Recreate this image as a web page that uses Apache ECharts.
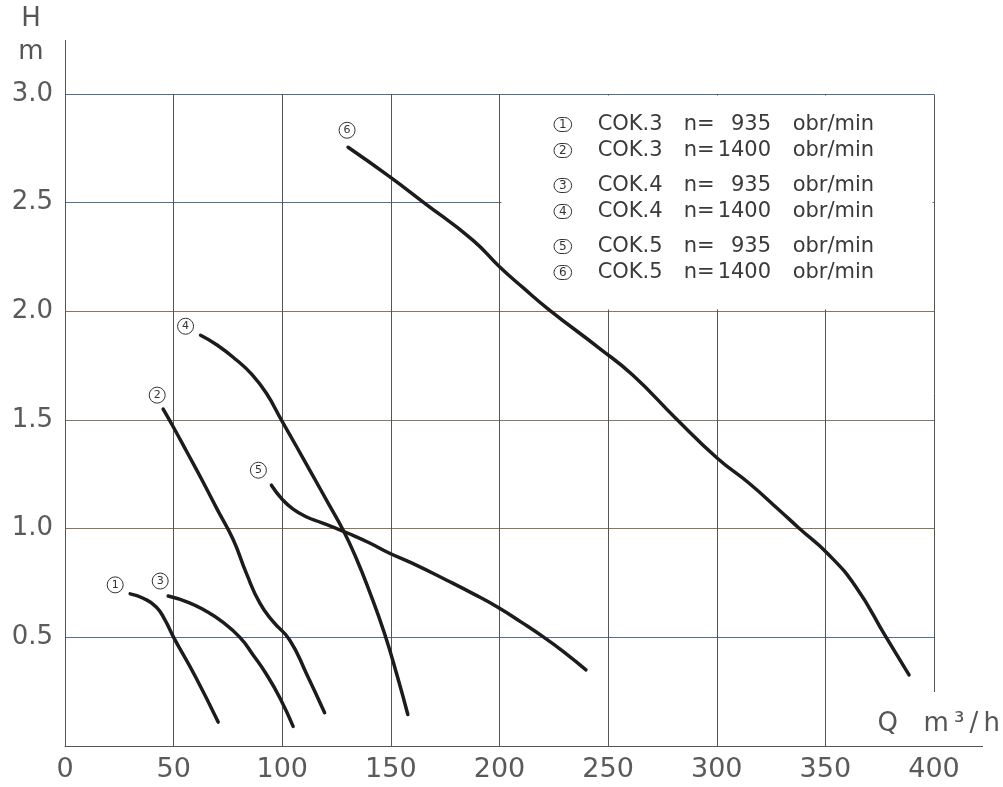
<!DOCTYPE html>
<html>
<head>
<meta charset="utf-8">
<script src="https://cdn.jsdelivr.net/npm/echarts@6/dist/echarts.min.js"></script>
<style>
html,body{margin:0;padding:0;background:#fff;}
#chart{width:1003px;height:787px;}
</style>
</head>
<body>
<div id="chart"></div>
<script>
// ---- Data (Q in m3/h, H in m) ----
const pumpModels = ['COK.3', 'COK.3', 'COK.4', 'COK.4', 'COK.5', 'COK.5'];
const pumpSpeeds = [935, 1400, 935, 1400, 935, 1400];
const speedUnit = 'obr/min';

const cok3n935 = [[30,0.70],[36,0.68],[42,0.64],[46,0.58],[50,0.50],[60,0.32],[70.5,0.11]];
const cok3n1400 = [[45.2,1.55],[49.8,1.469],[56,1.355],[63,1.225],[70,1.09],[77.4,0.95],[83.5,0.794],[89.7,0.657],[95.8,0.572],[103.4,0.488],[111.1,0.334],[119.5,0.153]];
const cok4n935 = [[47.5,0.69],[57,0.66],[65,0.62],[72,0.575],[80.5,0.50],[86.5,0.42],[92.7,0.33],[99,0.22],[105,0.09]];
const cok4n1400 = [[62.4,1.89],[70,1.845],[78.9,1.776],[86,1.71],[92.7,1.623],[99.6,1.50],[107,1.37],[114,1.245],[121,1.12],[128,0.994],[134,0.865],[140,0.715],[147,0.52],[153,0.32],[157.8,0.145]];
const cok5n935 = [[95,1.20],[100,1.135],[105,1.09],[111,1.055],[118,1.028],[124,1.005],[130,0.98],[140,0.935],[149.4,0.887],[160,0.84],[175.5,0.764],[188,0.70],[200,0.634],[210,0.57],[220,0.503],[230,0.43],[239.8,0.35]];
const cok5n1400 = [[130.3,2.755],[149.4,2.62],[164.7,2.504],[187.7,2.328],[200,2.205],[210.7,2.11],[223,2.006],[246,1.83],[261.3,1.707],[281.2,1.507],[300.4,1.323],[314.9,1.209],[328.7,1.086],[337.9,1.002],[350.9,0.887],[364,0.733],[377.8,0.503],[388.5,0.327]];

const curves = [cok3n935, cok3n1400, cok4n935, cok4n1400, cok5n935, cok5n1400];

// axis scale
const qMin = 0, qMax = 400, qStep = 50;
const hMin = 0, hMax = 3, hStep = 0.5;
const qSymbol = 'Q';
const qUnit = 'm\u2009³\u2009/\u2009h';
const hName = 'H\nm';

// ---- styles ----
const FONT = 'DejaVu Sans';
const tagOffsets = [[-15,-9],[-6,-14],[-8,-15],[-15,-9],[-13,-15],[-1,-17]];
const legendGroups = [[0,1],[2,3],[4,5]];
const legendTops = [109, 170, 231];
const hLineColors = ['#555555', '#4f6f95', '#8a7758', '#857a66', '#8a7758', '#4f6f95', '#4f6d8f'];

const seriesNames = pumpModels.map((m, i) => m + ' n=' + pumpSpeeds[i] + ' ' + speedUnit);

const chart = echarts.init(document.getElementById('chart'), null, {renderer: 'canvas'});

const TXT = '#3a3a3a';
const legendRich = {
  c: {fontFamily: FONT, fontSize: 12, color: '#333', lineHeight: 15, padding: [1.5, 5, 0.5, 5], borderColor: '#333', borderWidth: 1, borderRadius: 9},
  s: {width: 26, fontSize: 21, lineHeight: 22},
  t: {fontFamily: FONT, fontSize: 21, color: TXT, width: 86, lineHeight: 22},
  n: {fontFamily: FONT, fontSize: 21, color: TXT, width: 34, lineHeight: 22},
  v: {fontFamily: FONT, fontSize: 21, color: TXT, width: 75, lineHeight: 22},
  u: {fontFamily: FONT, fontSize: 21, color: TXT, lineHeight: 22}
};

const legends = legendGroups.map((g, gi) => ({
  data: g.map(i => seriesNames[i]),
  orient: 'vertical',
  left: 544,
  top: legendTops[gi],
  icon: 'none',
  itemWidth: 0,
  itemHeight: 16,
  itemGap: 5,
  selectedMode: false,
  formatter: function (name) {
    const i = seriesNames.indexOf(name);
    const sp = String(pumpSpeeds[i]);
    const spTxt = sp.length < 4 ? '\u2007'.repeat(4 - sp.length) + sp : sp;
    return '{c|' + (i + 1) + '}{s| }{t|' + pumpModels[i] + '}{n|n=}{v|' + spTxt + '}{u|' + speedUnit + '}';
  },
  textStyle: {rich: legendRich}
}));

const option = {
  backgroundColor: '#ffffff',
  animation: false,
  grid: {left: 65, right: 68, top: 94, bottom: 41, containLabel: false},
  legend: legends,
  xAxis: {
    type: 'value', min: qMin, max: qMax, interval: qStep,
    name: '{q|' + qSymbol + '}{u|' + qUnit + '}', nameLocation: 'end', nameGap: 66,
    nameTextStyle: {align: 'right', verticalAlign: 'bottom', padding: [0, 0, 9, 0],
      rich: {
        q: {fontFamily: FONT, fontSize: 26, color: '#555', width: 46, align: 'left'},
        u: {fontFamily: FONT, fontSize: 26, color: '#555', align: 'left'}
      }},
    axisLine: {show: true, lineStyle: {color: '#555', width: 1}},
    axisTick: {show: false},
    axisLabel: {fontFamily: FONT, fontSize: 27, color: '#5a5a5a', margin: 10},
    splitLine: {show: true, showMaxLine: false, lineStyle: {color: '#555', width: 1}}
  },
  yAxis: {
    type: 'value', min: hMin, max: hMax, interval: hStep,
    name: hName, nameLocation: 'end', nameGap: 25,
    nameTextStyle: {fontFamily: FONT, fontSize: 26, lineHeight: 33, color: '#555', align: 'center', verticalAlign: 'bottom', padding: [0, 68, 0, 0]},
    axisLine: {show: true, lineStyle: {color: '#555', width: 1}},
    axisTick: {show: false},
    axisLabel: {fontFamily: FONT, fontSize: 26, color: '#5a5a5a', margin: 12,
      formatter: v => (v === 0 ? '' : v.toFixed(1))},
    splitLine: {show: true, lineStyle: {color: hLineColors, width: 1}}
  },
  series: curves.map((c, i) => ({
    type: 'line',
    name: seriesNames[i],
    data: c,
    smooth: 0.5,
    showSymbol: false,
    symbol: 'none',
    silent: true,
    z: 3,
    lineStyle: {color: '#1c1c1c', width: 3.5, cap: 'round', join: 'round'},
    markPoint: {
      symbol: 'circle',
      symbolSize: 16,
      symbolOffset: tagOffsets[i],
      silent: true,
      data: [{coord: c[0], value: i + 1}],
      itemStyle: {color: '#fff', borderColor: '#333', borderWidth: 1},
      label: {show: true, position: 'inside', formatter: String(i + 1), color: '#333', fontSize: 11, fontFamily: FONT}
    }
  }))
};

chart.setOption(option);

// decorations: legend box mask, extended axis lines, shortened right frame
const px = (q, h) => chart.convertToPixel({gridIndex: 0}, [q, h]);
const o = px(qMin, hMin);
const topLeft = px(qMin, hMax);
const botRight = px(qMax, hMin);
const boxA = px(200, hMax);
const boxB = px(qMax, 2);
const frameEnd = px(qMax, 0.25);
const ax = Math.round(o[0]) + 0.5;
const ay = Math.round(o[1]) + 0.5;
const rx = Math.round(botRight[0]) + 0.5;

chart.setOption({
  graphic: [
    {type: 'rect', z: 1, silent: true,
      shape: {x: Math.round(boxA[0]) + 1.5, y: Math.round(boxA[1]) + 1.5, width: Math.round(boxB[0]) - Math.round(boxA[0]) - 3, height: Math.round(boxB[1]) - Math.round(boxA[1]) - 3},
      style: {fill: '#ffffff'}},
    {type: 'line', z: 1, silent: true,
      shape: {x1: rx, y1: Math.round(topLeft[1]) + 0.5, x2: rx, y2: Math.round(frameEnd[1])},
      style: {stroke: '#555', lineWidth: 1}},
    {type: 'line', z: 1, silent: true,
      shape: {x1: ax, y1: Math.round(topLeft[1]) + 1, x2: ax, y2: 40},
      style: {stroke: '#555', lineWidth: 1}},
    {type: 'line', z: 1, silent: true,
      shape: {x1: Math.round(botRight[0]), y1: ay, x2: 983, y2: ay},
      style: {stroke: '#555', lineWidth: 1}}
  ]
});
</script>
</body>
</html>
